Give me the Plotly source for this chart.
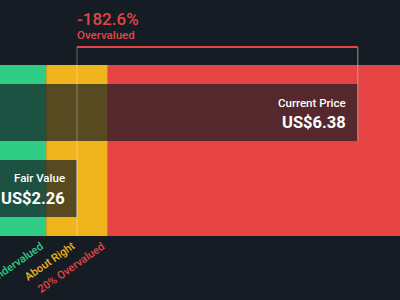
import plotly.graph_objects as go

# ---- data ----
fair_value = 2.26
current_price = 6.38
diff_label = "-182.6%"
diff_caption = "Overvalued"
band_labels = ["Undervalued", "About Right", "20% Overvalued"]
band_factors = [0.5, 0.8, 1.2]          # band start multiples of fair value
x_max = 7.0

BG = "#161c24"
GREEN = "#2fcc85"
YELLOW = "#f0b41c"
RED = "#e64444"
band_colors = [GREEN, YELLOW, RED]
label_colors = [GREEN, YELLOW, RED]

x_min = band_factors[0] * fair_value
band_starts = [f * fair_value for f in band_factors]
band_ends = band_starts[1:] + [x_max]

fig = go.Figure()

# colored zones
for s, e, c in zip(band_starts, band_ends, band_colors):
    fig.add_trace(go.Bar(orientation="h", y=[150.5], x=[e - s], base=[s], width=171,
                         marker=dict(color=c, line=dict(width=0)), hoverinfo="skip"))

# value boxes
fig.add_trace(go.Bar(orientation="h", y=[112.5], x=[current_price - x_min], base=[x_min], width=57,
                     marker=dict(color="rgba(22,28,36,0.7)", line=dict(width=0)), hoverinfo="skip"))
fig.add_trace(go.Bar(orientation="h", y=[188.5], x=[fair_value - x_min], base=[x_min], width=57,
                     marker=dict(color="rgba(22,28,36,0.7)", line=dict(width=0)), hoverinfo="skip"))

shapes = [
    dict(type="line", x0=fair_value, x1=fair_value, y0=47, y1=236, xref="x", yref="y",
         line=dict(color="rgba(255,255,255,0.22)", width=1.5)),
    dict(type="line", x0=fair_value, x1=fair_value, y0=160, y1=217, xref="x", yref="y",
         line=dict(color="rgba(200,200,200,0.6)", width=1.5)),
    dict(type="line", x0=current_price, x1=current_price, y0=47, y1=141, xref="x", yref="y",
         line=dict(color="rgba(180,180,180,0.55)", width=1.5)),
    dict(type="line", x0=fair_value, x1=current_price, y0=47, y1=47, xref="x", yref="y",
         line=dict(color=RED, width=2)),
]

F = "Roboto"
ann = [
    dict(x=fair_value, y=19, text=diff_label, xanchor="left", yanchor="middle", xshift=-2,
         font=dict(family=F, size=17, color=RED, weight=500)),
    dict(x=fair_value, y=35, text=diff_caption, xanchor="left", yanchor="middle", xshift=-2,
         font=dict(family=F, size=11.5, color=RED, weight=500)),
    dict(x=current_price, y=103, text="Current Price", xanchor="right", yanchor="middle", xshift=-10,
         font=dict(family=F, size=11.5, color="white", weight=500)),
    dict(x=current_price, y=122, text=f"US${current_price:.2f}", xanchor="right", yanchor="middle", xshift=-10,
         font=dict(family=F, size=16.5, color="white", weight=700)),
    dict(x=fair_value, y=178, text="Fair Value", xanchor="right", yanchor="middle", xshift=-10,
         font=dict(family=F, size=11.5, color="white", weight=500)),
    dict(x=fair_value, y=198, text=f"US${fair_value:.2f}", xanchor="right", yanchor="middle", xshift=-10,
         font=dict(family=F, size=16.5, color="white", weight=700)),
]
label_x = [band_starts[1], fair_value, band_starts[2]]
for lx, t, c in zip(label_x, band_labels, label_colors):
    ann.append(dict(x=lx, y=237, text=t, xanchor="right", yanchor="top", textangle=-35, xshift=3,
                    font=dict(family=F, size=11, color=c, weight=500)))
for a in ann:
    a.update(xref="x", yref="y", showarrow=False)

fig.update_layout(
    width=400, height=300, margin=dict(l=0, r=0, t=0, b=0),
    paper_bgcolor=BG, plot_bgcolor=BG, barmode="overlay", showlegend=False,
    xaxis=dict(range=[x_min, x_max], visible=False, fixedrange=True),
    yaxis=dict(range=[300, 0], visible=False, fixedrange=True),
    shapes=shapes, annotations=ann,
)
fig.write_html("out.html", config={"displayModeBar": False})
